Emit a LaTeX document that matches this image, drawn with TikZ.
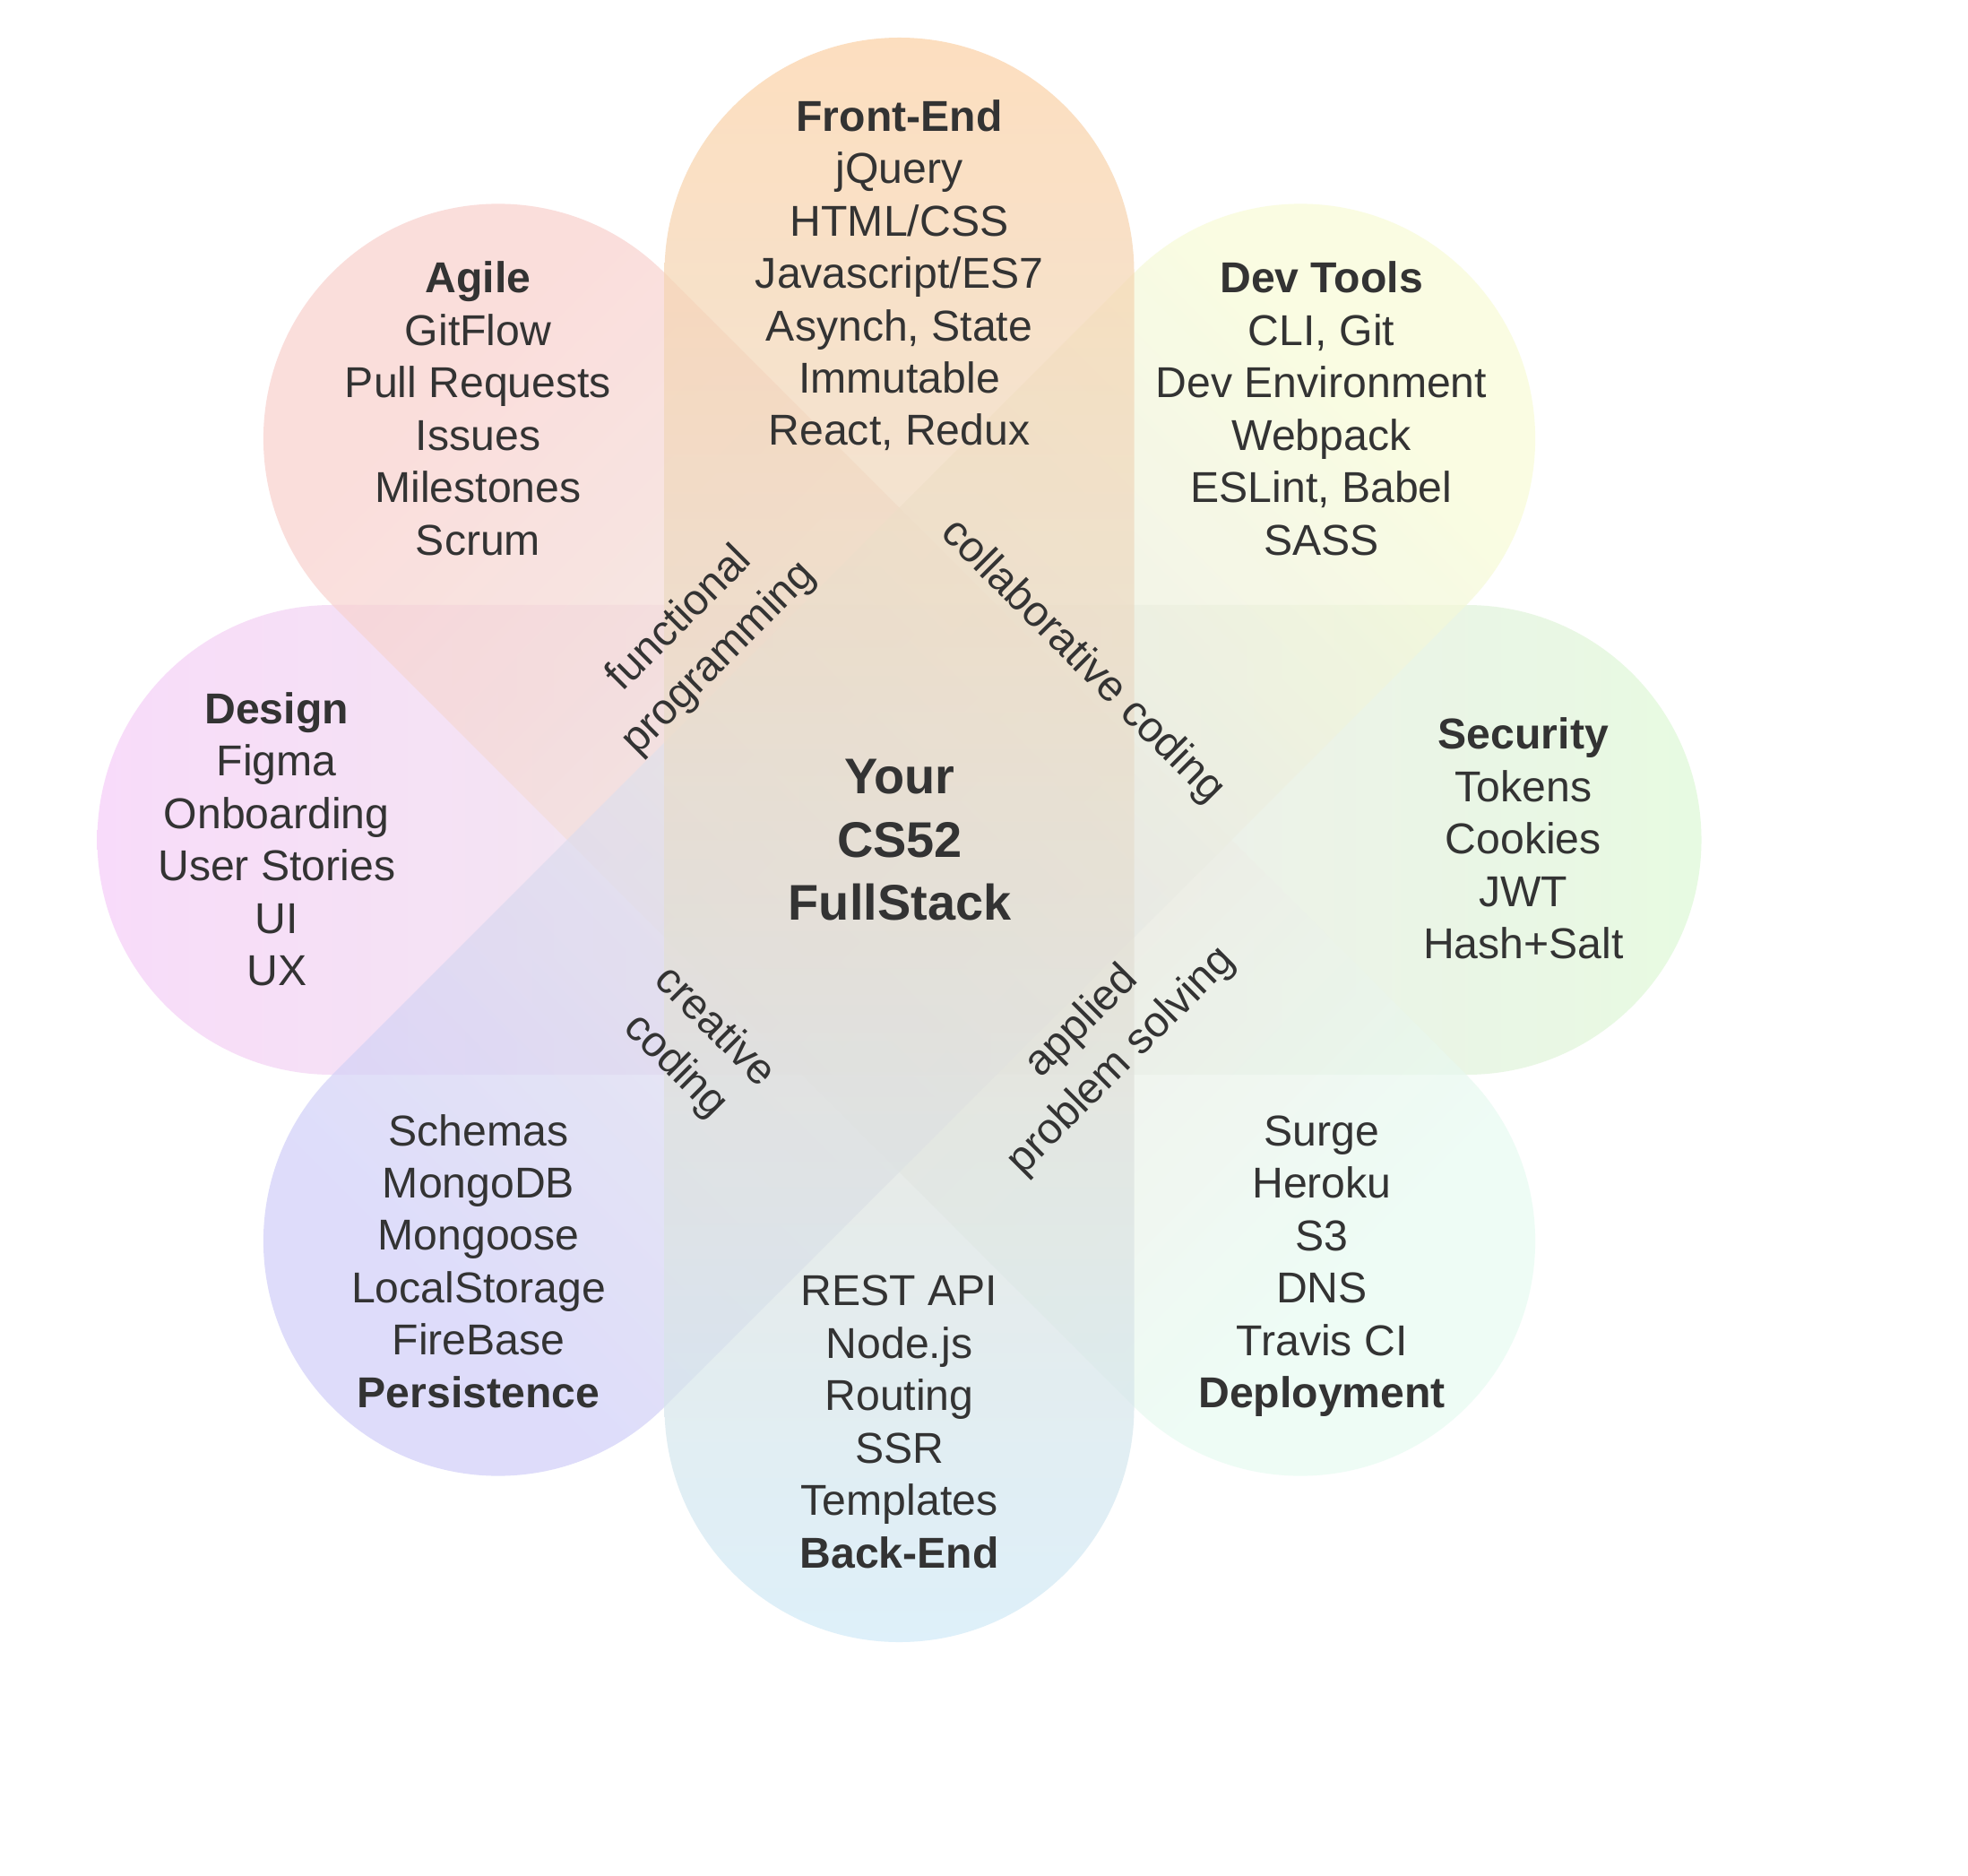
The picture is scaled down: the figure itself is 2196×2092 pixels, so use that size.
\documentclass[tikz,border=0pt]{standalone}
\usepackage{fontspec}
\setmainfont{Liberation Sans}
\usetikzlibrary{calc}
\definecolor{txt}{RGB}{51,51,51}
\definecolor{FEc}{RGB}{252,209,165}
\definecolor{BEc}{RGB}{208,234,248}
\definecolor{DSc}{RGB}{246,205,248}
\definecolor{SCc}{RGB}{222,249,214}
\definecolor{AGc}{RGB}{249,208,205}
\definecolor{DPc}{RGB}{231,252,242}
\definecolor{DTc}{RGB}{248,252,214}
\definecolor{PSc}{RGB}{208,206,249}
\tikzset{
  petal/.style={fill opacity=0.7},
  petaltxt/.style={align=center, text=txt, inner sep=0pt, font=\fontsize{13.7}{16.62}\selectfont},
  centertxt/.style={align=center, text=txt, inner sep=0pt, font=\bfseries\fontsize{15.9}{20}\selectfont},
  skilltxt/.style={align=center, text=txt, inner sep=0pt, font=\fontsize{13.7}{17.64}\selectfont}
}
\begin{document}
\begin{tikzpicture}[x=0.1mm,y=0.1mm]
\fill[white] (0,0) rectangle (2196,-2092);
\useasboundingbox (0,0) rectangle (2196,-2092);
% horizontal band: Design -> Security
\shade[petal, left color=DSc, right color=SCc]
  (370.5,-675) -- (1636.5,-675) arc[start angle=90,end angle=-90,radius=262]
  -- (370.5,-1199) arc[start angle=270,end angle=90,radius=262] -- cycle;
% diagonal: Agile -> Deployment
\shade[petal, top color=AGc, bottom color=DPc, shading angle=45]
  (741.16,-304.14) -- (1636.36,-1199.34) arc[start angle=45,end angle=-135,radius=262]
  -- (370.64,-674.66) arc[start angle=225,end angle=45,radius=262] -- cycle;
% diagonal: Dev Tools -> Persistence
\shade[petal, top color=DTc, bottom color=PSc, shading angle=-45]
  (1636.36,-674.66) -- (741.16,-1569.86) arc[start angle=-45,end angle=-225,radius=262]
  -- (1265.84,-304.14) arc[start angle=135,end angle=-45,radius=262] -- cycle;
% vertical band: Front-End -> Back-End
\shade[petal, top color=FEc, bottom color=BEc]
  (1265.5,-304) -- (1265.5,-1570) arc[start angle=0,end angle=-180,radius=262]
  -- (741.5,-304) arc[start angle=180,end angle=0,radius=262] -- cycle;

\node[petaltxt] (fe) at (1003.5,-310) {\strut\textbf{Front-End}\\jQuery\\HTML/CSS\\Javascript/ES7\\Asynch, State\\Immutable\\React, Redux\strut};
\node[petaltxt] (ag) at (533.5,-461.3) {\strut\textbf{Agile}\\GitFlow\\Pull Requests\\Issues\\Milestones\\Scrum\strut};
\node[petaltxt] (dt) at (1474.5,-461.3) {\strut\textbf{Dev Tools}\\CLI, Git\\Dev Environment\\Webpack\\ESLint, Babel\\SASS\strut};
\node[petaltxt] (ds) at (308.7,-941.7) {\strut\textbf{Design}\\Figma\\Onboarding\\User Stories\\UI\\UX\strut};
\node[petaltxt] (sc) at (1699.8,-941) {\strut\textbf{Security}\\Tokens\\Cookies\\JWT\\Hash+Salt\strut};
\node[petaltxt] (ps) at (534,-1412.4) {\strut Schemas\\MongoDB\\Mongoose\\LocalStorage\\FireBase\\\textbf{Persistence}\strut};
\node[petaltxt] (be) at (1003.5,-1591.3) {\strut REST API\\Node.js\\Routing\\SSR\\Templates\\\textbf{Back-End}\strut};
\node[petaltxt] (dp) at (1475,-1412.8) {\strut Surge\\Heroku\\S3\\DNS\\Travis CI\\\textbf{Deployment}\strut};

\node[centertxt] (ctr) at (1004,-942) {\strut Your\\CS52\\FullStack\strut};

\node[skilltxt, rotate=45] (fp) at (780.8,-713) {\strut functional\\programming\strut};
\node[skilltxt, rotate=-45] (cc) at (1207.5,-738.2) {\strut collaborative coding\strut};
\node[skilltxt, rotate=-45] (cr) at (775,-1168) {\strut creative\\coding\strut};
\node[skilltxt, rotate=45] (ap) at (1229.8,-1162.2) {\strut applied\\problem solving\strut};
\end{tikzpicture}
\end{document}
